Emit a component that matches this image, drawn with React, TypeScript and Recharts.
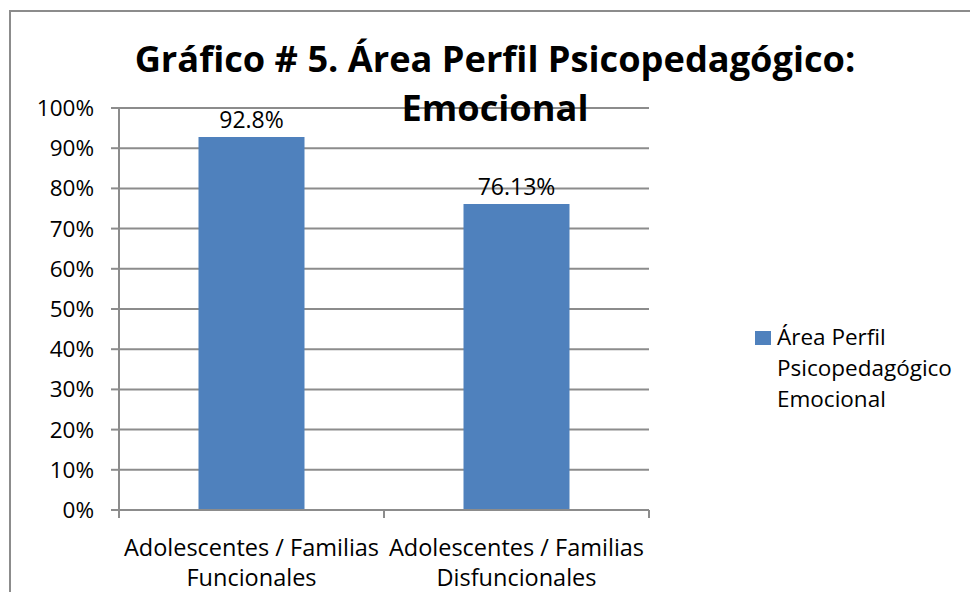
import React from "react";
import {
  BarChart,
  Bar,
  XAxis,
  YAxis,
  CartesianGrid,
  Legend,
  LabelList,
} from "recharts";

const categories = [
  "Adolescentes / Familias Funcionales",
  "Adolescentes / Familias Disfuncionales",
];
const percentages = [92.8, 76.13];
const yTicks = [0, 10, 20, 30, 40, 50, 60, 70, 80, 90, 100];
const seriesName = "Área Perfil Psicopedagógico Emocional";
const titleLines = ["Gráfico # 5. Área Perfil Psicopedagógico:", "Emocional"];

const data = categories.map((name, i) => ({ name, value: percentages[i] }));
const categoryEdges = categories.map((_, i) => i).concat(categories.length);

const FONT = "'Open Sans', sans-serif";
const GRID = "#8c8c8c";
const BAR = "#4f81bd";

const CategoryTick = (props: any) => {
  const { x, y, payload } = props;
  const label: string = payload.value;
  const cut = label.lastIndexOf(" ");
  return (
    <text x={x} y={y} textAnchor="middle" fill="#000" fontSize={23.5} fontFamily={FONT}>
      <tspan x={x} dy={45}>{label.slice(0, cut)}</tspan>
      <tspan x={x} dy={30}>{label.slice(cut + 1)}</tspan>
    </text>
  );
};

const EmptyTick = () => <g />;

const renderLegend = (props: any) => {
  const { payload } = props;
  return (
    <div style={{ position: "relative", fontFamily: FONT, fontSize: 22.5, lineHeight: "31px", color: "#000" }}>
      {(payload || []).map((entry: any) => (
        <div key={entry.value} style={{ position: "relative" }}>
          <span
            style={{
              position: "absolute",
              left: 0,
              top: 10,
              width: 16,
              height: 14,
              background: entry.color,
            }}
          />
          <div style={{ marginLeft: 22, width: 190 }}>{entry.value}</div>
        </div>
      ))}
    </div>
  );
};

export default function App() {
  return (
    <div
      style={{
        position: "fixed",
        left: 0,
        top: 0,
        width: 970,
        height: 592,
        overflow: "hidden",
        background: "#fff",
      }}
    >
      <div
        style={{
          position: "absolute",
          left: 9,
          top: 10,
          width: 990,
          height: 620,
          border: `2px solid ${GRID}`,
        }}
      />
      <div style={{ position: "absolute", left: 0, top: 0 }}>
        <BarChart
          width={970}
          height={592}
          data={data}
          margin={{ top: 108, right: 321, left: 0, bottom: 0 }}
          barCategoryGap="30%"
        >
          <CartesianGrid vertical={false} stroke={GRID} strokeWidth={2} />
          <XAxis
            type="number"
            dataKey="edge"
            domain={[0, categories.length]}
            ticks={categoryEdges}
            allowDataOverflow
            height={1}
            tick={<EmptyTick />}
            tickLine={{ stroke: GRID, strokeWidth: 2 }}
            tickSize={8}
            stroke={GRID}
            strokeWidth={2}
          />
          <XAxis
            xAxisId="cat"
            dataKey="name"
            height={81}
            axisLine={false}
            tickLine={false}
            tickSize={0}
            tickMargin={0}
            interval={0}
            tick={<CategoryTick />}
          />
          <YAxis
            width={119}
            domain={[0, 100]}
            ticks={yTicks}
            tickFormatter={(v) => `${v}%`}
            tickSize={8}
            tickMargin={17}
            stroke={GRID}
            strokeWidth={2}
            tick={{ fill: "#000", fontSize: 22.5, fontFamily: FONT }}
          />
          <Legend
            layout="horizontal"
            verticalAlign="middle"
            align="center"
            content={renderLegend}
            wrapperStyle={{ left: 755, top: 321, width: 215 }}
          />
          <Bar xAxisId="cat" dataKey="value" name={seriesName} fill={BAR} isAnimationActive={false}>
            <LabelList
              dataKey="value"
              position="top"
              offset={9}
              formatter={(v: any) => `${v}%`}
              fill="#000"
              fontSize={23}
              fontFamily={FONT}
            />
          </Bar>
        </BarChart>
      </div>
      <div
        style={{
          position: "absolute",
          left: 95,
          top: 34,
          width: 800,
          textAlign: "center",
          fontFamily: FONT,
          fontWeight: 700,
          fontSize: 36.2,
          lineHeight: "49px",
          color: "#000",
        }}
      >
        {titleLines.map((line) => (
          <div key={line}>
            <span>{line}</span>
          </div>
        ))}
      </div>
    </div>
  );
}
